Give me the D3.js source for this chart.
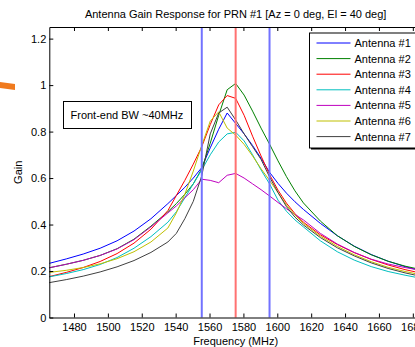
<!DOCTYPE html>
<html>
<head>
<meta charset="utf-8">
<script src="https://cdn.jsdelivr.net/npm/d3@7"></script>
<style>
  body { margin: 0; background: #fff; }
  svg { display: block; font-family: "Liberation Sans", Arial, sans-serif; }
</style>
</head>
<body>
<svg id="chart" width="415" height="347"></svg>
<script>
// frequency grid (MHz)
const freqs = [1465.42, 1475.42, 1485.42, 1495.42, 1505.42, 1515.42, 1525.42, 1535.42,
  1540.42, 1545.42, 1550.42, 1555.42, 1560.42, 1565.42, 1570.42, 1575.42,
  1580.42, 1585.42, 1590.42, 1595.42, 1600.42, 1605.42, 1610.42, 1615.42,
  1625.42, 1635.42, 1645.42, 1655.42, 1665.42, 1675.42, 1685.42];

const antenna1 = [0.233, 0.252, 0.273, 0.298, 0.33, 0.372, 0.425, 0.49,
  0.525, 0.56, 0.6, 0.645, 0.73, 0.81, 0.88, 0.835,
  0.79, 0.74, 0.685, 0.625, 0.577, 0.535, 0.498, 0.465,
  0.405, 0.352, 0.307, 0.271, 0.242, 0.219, 0.2];
const antenna2 = [0.214, 0.229, 0.246, 0.267, 0.296, 0.337, 0.393, 0.455,
  0.49, 0.53, 0.575, 0.64, 0.75, 0.87, 0.98, 1.007,
  0.957, 0.888, 0.815, 0.746, 0.674, 0.606, 0.545, 0.493,
  0.415, 0.352, 0.306, 0.27, 0.242, 0.221, 0.205];
const antenna3 = [0.176, 0.194, 0.215, 0.241, 0.275, 0.32, 0.38, 0.46,
  0.525, 0.59, 0.66, 0.735, 0.83, 0.915, 0.955, 0.943,
  0.87, 0.78, 0.695, 0.615, 0.548, 0.492, 0.447, 0.41,
  0.356, 0.314, 0.279, 0.25, 0.226, 0.206, 0.19];
const antenna4 = [0.175, 0.189, 0.206, 0.228, 0.258, 0.298, 0.348, 0.41,
  0.455, 0.515, 0.575, 0.635, 0.7, 0.755, 0.79, 0.797,
  0.76, 0.7, 0.635, 0.575, 0.505, 0.457, 0.42, 0.39,
  0.33, 0.283, 0.247, 0.219, 0.198, 0.182, 0.168];
const antenna5 = [0.214, 0.229, 0.246, 0.267, 0.295, 0.335, 0.39, 0.45,
  0.48, 0.515, 0.55, 0.595, 0.59, 0.58, 0.612, 0.62,
  0.6, 0.575, 0.55, 0.523, 0.495, 0.468, 0.443, 0.42,
  0.362, 0.316, 0.28, 0.251, 0.23, 0.215, 0.202];
const antenna6 = [0.194, 0.203, 0.215, 0.231, 0.253, 0.283, 0.325, 0.385,
  0.45, 0.53, 0.63, 0.74, 0.845, 0.885, 0.815, 0.785,
  0.745, 0.695, 0.64, 0.59, 0.537, 0.484, 0.441, 0.405,
  0.35, 0.306, 0.27, 0.24, 0.216, 0.198, 0.183];
const antenna7 = [0.15, 0.163, 0.178, 0.196, 0.218, 0.245, 0.28, 0.325,
  0.362, 0.425, 0.5, 0.61, 0.79, 0.88, 0.905, 0.85,
  0.79, 0.735, 0.68, 0.605, 0.538, 0.477, 0.432, 0.398,
  0.344, 0.3, 0.265, 0.235, 0.211, 0.192, 0.176];

const seriesNames = ["Antenna #1", "Antenna #2", "Antenna #3", "Antenna #4", "Antenna #5", "Antenna #6", "Antenna #7"];
const seriesValues = [antenna1, antenna2, antenna3, antenna4, antenna5, antenna6, antenna7];
const seriesColors = ["#0000ff", "#008000", "#ff0000", "#00bfbf", "#bf00bf", "#bfbf00", "#404040"];

// band markers: L1 centre and +/-20 MHz edges
const bandEdges = [1555.42, 1595.42];
const bandCentre = [1575.42];

const xTicks = [1480, 1500, 1520, 1540, 1560, 1580, 1600, 1620, 1640, 1660, 1680];
const yTicks = [0, 0.2, 0.4, 0.6, 0.8, 1, 1.2];

const margin = { top: 27, right: -7, bottom: 29.5, left: 49.3 };
const W = 415, H = 347;

const svg = d3.select("#chart");

const x = d3.scaleLinear()
  .domain([1465.42, 1685.42])
  .range([margin.left, W - margin.right]);
const y = d3.scaleLinear()
  .domain([0, 1.25])
  .range([H - margin.bottom, margin.top]);

// stray orange mark on the left edge
svg.append("path")
  .attr("d", "M0,82 L15,84 L15,90 L0,88 Z")
  .attr("fill", "#f07a1e");

// series
const line = d3.line()
  .x((d, i) => x(freqs[i]))
  .y(d => y(d));

svg.append("g")
  .selectAll("path")
  .data(seriesValues)
  .enter()
  .append("path")
  .attr("d", d => line(d))
  .attr("fill", "none")
  .attr("stroke", (d, i) => seriesColors[i])
  .attr("stroke-width", 1);

// vertical band lines
svg.append("g")
  .selectAll("line")
  .data(bandEdges)
  .enter()
  .append("line")
  .attr("x1", d => x(d)).attr("x2", d => x(d))
  .attr("y1", y(1.25)).attr("y2", y(0))
  .attr("stroke", "#7272ff")
  .attr("stroke-width", 2);

svg.append("g")
  .selectAll("line")
  .data(bandCentre)
  .enter()
  .append("line")
  .attr("x1", d => x(d)).attr("x2", d => x(d))
  .attr("y1", y(1.25)).attr("y2", y(0))
  .attr("stroke", "#ff7272")
  .attr("stroke-width", 2);

// axes
const fontSize = 11;
const xAxis = svg.append("g")
  .attr("transform", `translate(0,${y(0)})`)
  .call(d3.axisBottom(x).tickValues(xTicks).tickSize(-4).tickSizeOuter(0).tickPadding(6)
    .tickFormat(d3.format("d")));
const xTop = svg.append("g")
  .attr("transform", `translate(0,${y(1.25)})`)
  .call(d3.axisTop(x).tickValues(xTicks).tickSize(-4).tickSizeOuter(0).tickFormat(""));
const yAxis = svg.append("g")
  .attr("transform", `translate(${x(1465.42)},0)`)
  .call(d3.axisLeft(y).tickValues(yTicks).tickSize(-4).tickSizeOuter(0).tickPadding(3)
    .tickFormat(d => String(+d.toFixed(1))));
const yRight = svg.append("g")
  .attr("transform", `translate(${x(1685.42)},0)`)
  .call(d3.axisRight(y).tickValues(yTicks).tickSize(-4).tickSizeOuter(0).tickFormat(""));

[xAxis, xTop, yAxis, yRight].forEach(g => {
  g.selectAll("text").attr("font-size", fontSize).attr("font-family", null).attr("fill", "#000");
  g.selectAll("line").attr("stroke", "#000");
  g.select(".domain").attr("stroke", "#000");
});

// titles
svg.append("text")
  .attr("x", (x(1465.42) + x(1685.42)) / 2)
  .attr("y", 18)
  .attr("text-anchor", "middle")
  .attr("font-size", 11)
  .text("Antenna Gain Response for PRN #1 [Az = 0 deg, El = 40 deg]");

svg.append("text")
  .attr("x", (x(1465.42) + x(1685.42)) / 2)
  .attr("y", 345)
  .attr("text-anchor", "middle")
  .attr("font-size", 11)
  .text("Frequency (MHz)");

svg.append("text")
  .attr("transform", `translate(22,${(y(0) + y(1.25)) / 2}) rotate(-90)`)
  .attr("text-anchor", "middle")
  .attr("font-size", 11)
  .text("Gain");

// annotation box
svg.append("rect")
  .attr("x", 63.5).attr("y", 101.5)
  .attr("width", 128).attr("height", 27)
  .attr("fill", "#fff").attr("stroke", "#000").attr("stroke-width", 1);
svg.append("text")
  .attr("x", 70.5).attr("y", 119)
  .attr("font-size", 11)
  .text("Front-end BW ~40MHz");

// legend
const legend = svg.append("g").attr("transform", "translate(309.5,33)");
legend.append("rect")
  .attr("x", 1.5).attr("y", 1.5)
  .attr("width", 120).attr("height", 115)
  .attr("fill", "#000");
legend.append("rect")
  .attr("width", 120).attr("height", 115)
  .attr("fill", "#fff").attr("stroke", "#000").attr("stroke-width", 1);

const entries = legend.selectAll(".entry")
  .data(seriesNames)
  .enter()
  .append("g")
  .attr("class", "entry")
  .attr("transform", (d, i) => `translate(0,${10 + i * 15.6})`);
entries.append("line")
  .attr("x1", 7).attr("x2", 41)
  .attr("stroke", (d, i) => seriesColors[i])
  .attr("stroke-width", 1);
entries.append("text")
  .attr("x", 45).attr("y", 4)
  .attr("font-size", 11)
  .text(d => d);
</script>
</body>
</html>
